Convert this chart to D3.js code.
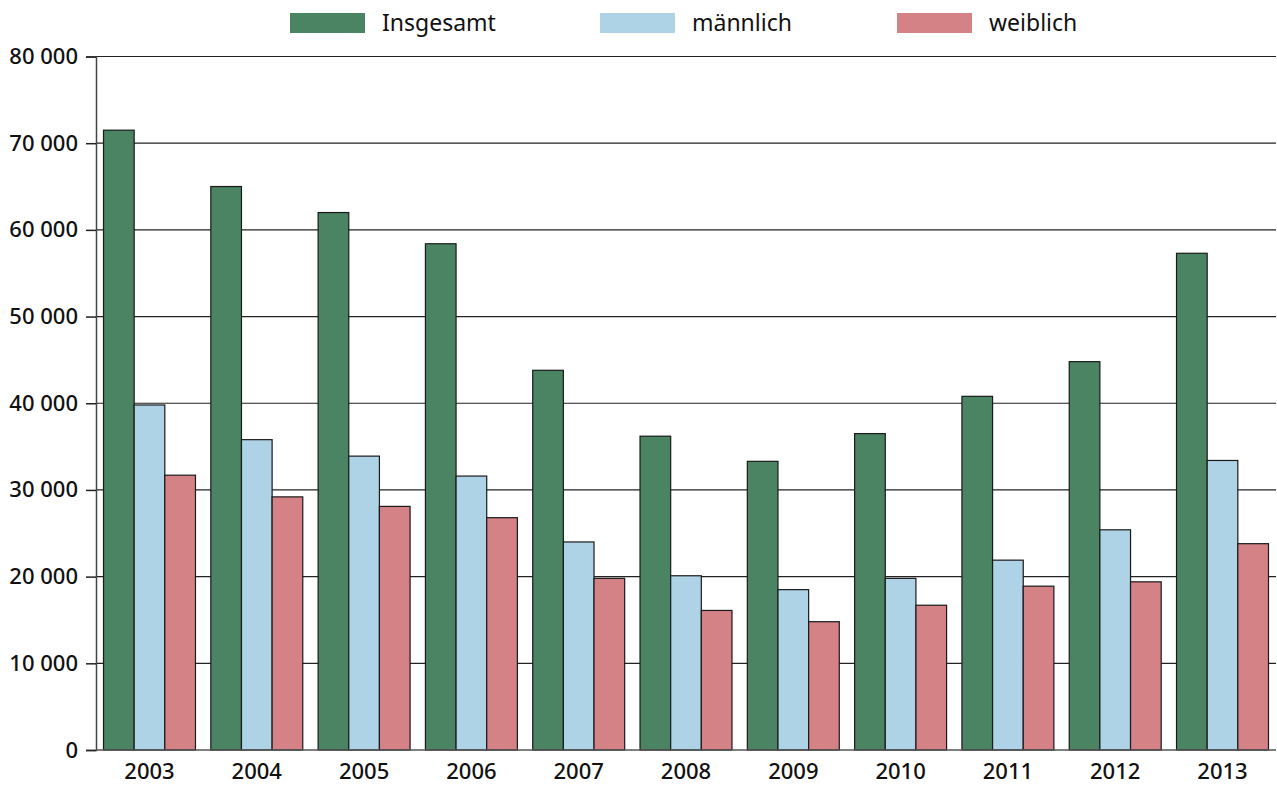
<!DOCTYPE html>
<html>
<head>
<meta charset="utf-8">
<script src="https://cdn.jsdelivr.net/npm/d3@7"></script>
<style>
  body { margin: 0; background: #fff; }
  svg { font-family: "Noto Sans", "Open Sans", sans-serif; }
</style>
</head>
<body>
<svg id="chart" width="1277" height="785"></svg>
<script>
const years = ["2003", "2004", "2005", "2006", "2007", "2008", "2009", "2010", "2011", "2012", "2013"];
const seriesNames = ["Insgesamt", "männlich", "weiblich"];
const insgesamt = [71500, 65000, 62000, 58400, 43800, 36200, 33300, 36500, 40800, 44800, 57300];
const maennlich = [39800, 35800, 33900, 31600, 24000, 20100, 18500, 19800, 21900, 25400, 33400];
const weiblich = [31700, 29200, 28100, 26800, 19800, 16100, 14800, 16700, 18900, 19400, 23800];
const yTicks = [0, 10000, 20000, 30000, 40000, 50000, 60000, 70000, 80000];

const colors = ["#4b8462", "#aed3e6", "#d58287"];

const svg = d3.select("#chart");
const margin = { top: 56.5, right: 1, bottom: 35, left: 96 };
const width = 1277 - margin.left - margin.right;
const height = 785 - margin.top - margin.bottom;

const g = svg.append("g").attr("transform", `translate(${margin.left},${margin.top})`);

const data = years.map((y, i) => ({
  year: y,
  values: [insgesamt[i], maennlich[i], weiblich[i]]
}));

const x0 = d3.scaleBand().domain(years).range([0, width]).paddingInner(0.143).paddingOuter(0.07);
const x1 = d3.scaleBand().domain(d3.range(3)).range([0, x0.bandwidth()]).padding(0);
const y = d3.scaleLinear().domain([0, 80000]).range([height, 0]);

// format "80 000"
const fmt = (v) => d3.format(",")(v).replace(/,/g, " ");

// gridlines
g.selectAll(".grid")
  .data(yTicks.filter((d) => d > 0))
  .enter()
  .append("line")
  .attr("x1", 0)
  .attr("x2", width)
  .attr("y1", (d) => y(d))
  .attr("y2", (d) => y(d))
  .attr("stroke", "#222")
  .attr("stroke-width", 1.2);

// bars
const groups = g.selectAll(".year")
  .data(data)
  .enter()
  .append("g")
  .attr("transform", (d) => `translate(${x0(d.year)},0)`);

groups.selectAll("rect")
  .data((d) => d.values)
  .enter()
  .append("rect")
  .attr("x", (d, i) => x1(i))
  .attr("y", (d) => y(d))
  .attr("width", x1.bandwidth())
  .attr("height", (d) => height - y(d))
  .attr("fill", (d, i) => colors[i])
  .attr("stroke", "#1a1a1a")
  .attr("stroke-width", 1.2);

// y axis
const yAxis = g.append("g")
  .call(d3.axisLeft(y).tickValues(yTicks).tickFormat(fmt).tickSize(10).tickPadding(8));
yAxis.select(".domain").attr("stroke", "#444").attr("stroke-width", 1.5);
yAxis.selectAll(".tick line").attr("stroke", "#222").attr("stroke-width", 1.5);
yAxis.selectAll("text").attr("font-size", 22).attr("font-weight", 500).attr("fill", "#111")
  .attr("font-family", "'Noto Sans', 'Open Sans', sans-serif");

// baseline
g.append("line")
  .attr("x1", 0)
  .attr("x2", width)
  .attr("y1", height)
  .attr("y2", height)
  .attr("stroke", "#555")
  .attr("stroke-width", 1.5);

// x labels
const xAxis = g.append("g")
  .attr("transform", `translate(0,${height})`)
  .call(d3.axisBottom(x0).tickSize(0).tickPadding(13));
xAxis.select(".domain").remove();
xAxis.selectAll("text").attr("font-size", 22).attr("font-weight", 500).attr("fill", "#111")
  .attr("font-family", "'Noto Sans', 'Open Sans', sans-serif");

// legend
const legendX = [290, 600, 897];
const legend = svg.selectAll(".legend")
  .data(seriesNames)
  .enter()
  .append("g")
  .attr("transform", (d, i) => `translate(${legendX[i]},13)`);

legend.append("rect")
  .attr("width", 75)
  .attr("height", 20)
  .attr("fill", (d, i) => colors[i]);

legend.append("text")
  .attr("x", 92)
  .attr("y", 18)
  .attr("font-size", 23)
  .attr("fill", "#111")
  .text((d) => d);
</script>
</body>
</html>
